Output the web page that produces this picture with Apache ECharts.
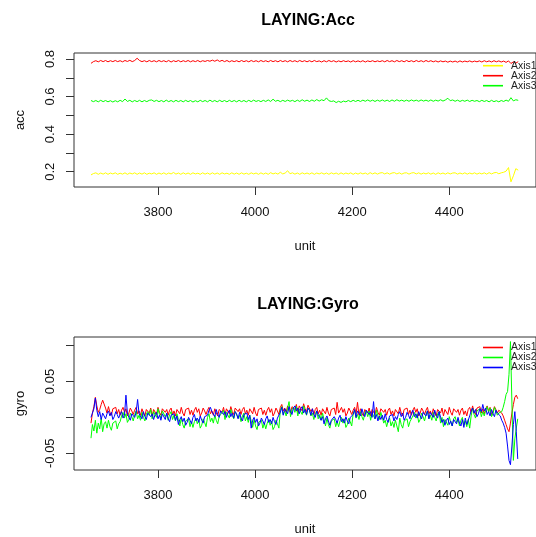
<!DOCTYPE html>
<html>
<head>
<meta charset="utf-8">
<script src="https://cdn.jsdelivr.net/npm/echarts@6/dist/echarts.min.js"></script>
<style>
html,body{margin:0;padding:0;background:#fff;}
#chart{width:536px;height:537px;}
</style>
</head>
<body>
<div id="chart"></div>
<script>
// x = unit index of each sample
const unitStart = 3662;
const accStep = 5;
const gyroStep = 3;

const xTicks = [3800, 4000, 4200, 4400];
const accTicks = [0.2, 0.3, 0.4, 0.5, 0.6, 0.7, 0.8];
const accLabels = [0.2, 0.4, 0.6, 0.8];
const gyroTicks = [-0.05, 0, 0.05, 0.1];
const gyroLabels = [-0.05, 0.05];

const titles = ['LAYING:Acc', 'LAYING:Gyro'];
const legendNames = ['Axis1', 'Axis2', 'Axis3'];

// LAYING:Acc (one value every 5 units)
const accAxis1 = [
0.183,0.190,0.194,0.186,0.193,0.187,0.194,0.186,0.193,0.188,
0.194,0.186,0.192,0.187,0.194,0.186,0.193,0.188,0.194,0.186,
0.193,0.187,0.194,0.186,0.192,0.188,0.194,0.186,0.193,0.187,
0.194,0.186,0.193,0.188,0.196,0.187,0.193,0.186,0.194,0.187,
0.193,0.186,0.194,0.188,0.192,0.186,0.194,0.187,0.193,0.186,
0.194,0.187,0.193,0.186,0.194,0.188,0.192,0.186,0.194,0.187,
0.193,0.186,0.194,0.187,0.192,0.186,0.194,0.188,0.193,0.186,
0.194,0.187,0.193,0.186,0.195,0.188,0.193,0.187,0.197,0.188,
0.193,0.205,0.189,0.194,0.187,0.193,0.186,0.194,0.188,0.193,
0.187,0.194,0.186,0.193,0.188,0.194,0.187,0.193,0.186,0.194,
0.188,0.193,0.186,0.194,0.187,0.193,0.188,0.194,0.186,0.193,
0.187,0.194,0.188,0.193,0.186,0.195,0.188,0.194,0.187,0.193,
0.195,0.188,0.194,0.187,0.193,0.195,0.188,0.194,0.187,0.193,
0.194,0.187,0.193,0.195,0.188,0.194,0.187,0.193,0.188,0.194,
0.187,0.193,0.186,0.194,0.188,0.193,0.187,0.194,0.188,0.193,
0.194,0.187,0.193,0.188,0.194,0.187,0.193,0.188,0.194,0.187,
0.193,0.188,0.194,0.187,0.195,0.188,0.194,0.196,0.189,0.194,
0.197,0.203,0.222,0.146,0.178,0.216,0.208
];
const accAxis2 = [
0.777,0.786,0.791,0.785,0.792,0.786,0.792,0.785,0.791,0.786,
0.792,0.786,0.791,0.785,0.792,0.787,0.793,0.786,0.792,0.804,
0.792,0.786,0.791,0.785,0.792,0.786,0.791,0.785,0.792,0.786,
0.791,0.785,0.792,0.784,0.791,0.786,0.792,0.785,0.791,0.786,
0.792,0.785,0.791,0.786,0.792,0.785,0.791,0.787,0.792,0.788,
0.794,0.788,0.795,0.787,0.793,0.786,0.792,0.785,0.791,0.786,
0.791,0.785,0.792,0.786,0.791,0.785,0.792,0.786,0.791,0.785,
0.792,0.786,0.791,0.785,0.792,0.786,0.791,0.785,0.792,0.786,
0.791,0.785,0.792,0.786,0.791,0.785,0.792,0.786,0.791,0.785,
0.791,0.785,0.792,0.786,0.790,0.784,0.791,0.785,0.792,0.786,
0.791,0.784,0.790,0.785,0.791,0.786,0.790,0.784,0.791,0.785,
0.790,0.785,0.791,0.784,0.790,0.786,0.791,0.785,0.790,0.786,
0.791,0.785,0.792,0.786,0.791,0.785,0.792,0.786,0.791,0.785,
0.792,0.786,0.791,0.785,0.792,0.786,0.791,0.785,0.792,0.786,
0.791,0.785,0.790,0.784,0.790,0.785,0.789,0.783,0.789,0.784,
0.789,0.783,0.790,0.784,0.789,0.785,0.790,0.784,0.789,0.785,
0.790,0.784,0.791,0.785,0.790,0.784,0.791,0.785,0.790,0.784,
0.789,0.782,0.790,0.776,0.785,0.778,0.786
];
const accAxis3 = [
0.579,0.573,0.579,0.572,0.580,0.573,0.579,0.572,0.578,0.571,
0.578,0.572,0.580,0.573,0.587,0.574,0.580,0.572,0.579,0.573,
0.580,0.572,0.579,0.573,0.580,0.582,0.574,0.580,0.573,0.579,
0.572,0.581,0.573,0.579,0.572,0.580,0.573,0.579,0.572,0.580,
0.573,0.579,0.571,0.578,0.572,0.580,0.573,0.579,0.572,0.581,
0.573,0.579,0.572,0.580,0.573,0.579,0.572,0.580,0.573,0.579,
0.572,0.580,0.573,0.579,0.572,0.580,0.573,0.581,0.574,0.579,
0.573,0.580,0.574,0.582,0.574,0.586,0.575,0.580,0.573,0.580,
0.574,0.581,0.575,0.580,0.573,0.581,0.574,0.583,0.575,0.581,
0.574,0.582,0.575,0.584,0.576,0.583,0.578,0.593,0.578,0.574,
0.577,0.568,0.575,0.569,0.576,0.572,0.579,0.573,0.580,0.574,
0.580,0.574,0.581,0.575,0.582,0.575,0.581,0.574,0.581,0.575,
0.582,0.575,0.581,0.574,0.582,0.575,0.583,0.576,0.581,0.575,
0.581,0.575,0.582,0.576,0.581,0.575,0.582,0.576,0.581,0.575,
0.582,0.575,0.581,0.576,0.583,0.576,0.582,0.591,0.578,0.582,
0.575,0.581,0.574,0.580,0.575,0.581,0.574,0.580,0.575,0.579,
0.573,0.580,0.574,0.579,0.572,0.580,0.573,0.578,0.572,0.579,
0.574,0.581,0.575,0.594,0.577,0.583,0.580
];

// LAYING:Gyro (one value every 3 units)
const gyroAxis1 = [
-0.008,0.006,0.015,0.028,0.016,0.007,0.011,0.018,0.024,0.022,
0.013,0.006,0.015,0.007,0.003,0.012,0.010,0.014,0.005,0.011,
0.003,0.010,0.014,0.007,0.012,0.002,0.006,0.013,0.009,0.004,
0.010,0.014,0.005,0.009,0.003,0.012,0.006,0.002,0.011,0.013,
0.006,0.013,0.002,0.011,0.009,0.004,0.014,0.007,0.003,0.012,
0.014,0.007,0.011,0.003,0.010,0.013,0.004,0.009,0.002,0.011,
0.012,0.005,0.014,0.006,0.002,0.011,0.009,0.013,0.004,0.010,
0.003,0.010,0.014,0.007,0.012,0.002,0.006,0.013,0.009,0.004,
0.010,0.014,0.005,0.009,0.003,0.012,0.006,0.002,0.011,0.013,
0.007,0.014,0.003,0.012,0.010,0.005,0.015,0.008,0.004,0.013,
0.015,0.008,0.012,0.004,0.011,0.014,0.005,0.010,0.003,0.012,
0.012,0.005,0.014,0.006,0.002,0.011,0.009,0.013,0.004,0.010,
0.003,0.010,0.014,0.007,0.012,0.002,0.006,0.013,0.009,0.004,
0.014,0.018,0.009,0.013,0.007,0.016,0.010,0.006,0.015,0.017,
0.011,0.018,0.007,0.016,0.014,0.009,0.019,0.012,0.008,0.017,
0.015,0.008,0.012,0.004,0.011,0.014,0.005,0.010,0.003,0.012,
0.012,0.005,0.014,0.006,0.002,0.011,0.009,0.013,0.004,0.021,
0.006,0.010,0.014,0.007,0.012,0.002,0.006,0.013,0.009,0.004,
0.010,0.014,0.005,0.021,0.003,0.012,0.006,0.002,0.011,0.013,
0.006,0.013,0.002,0.011,0.009,0.004,0.014,0.007,0.003,0.012,
0.014,0.007,0.011,0.003,0.010,0.013,0.004,0.009,0.002,0.011,
0.012,0.005,0.014,0.006,0.002,0.011,0.009,0.013,0.004,0.010,
0.003,0.010,0.014,0.007,0.012,0.002,0.006,0.013,0.009,0.004,
0.010,0.014,0.005,0.009,0.003,0.012,0.006,0.002,0.011,0.013,
0.006,0.013,0.002,0.011,0.009,0.004,0.014,0.007,0.003,0.012,
0.014,0.007,0.011,0.003,0.010,0.013,0.004,0.009,0.002,0.011,
0.014,0.007,0.016,0.008,0.004,0.013,0.011,0.015,0.006,0.012,
0.005,0.012,0.016,0.009,0.014,0.004,0.008,0.015,0.011,0.006,
0.010,0.008,0.006,0.002,-0.004,-0.010,-0.016,-0.020,-0.008,0.006,
0.018,0.028,0.031,0.026
];
const gyroAxis2 = [
-0.029,-0.010,-0.019,-0.004,-0.022,-0.008,-0.016,-0.001,-0.020,-0.009,
-0.006,-0.015,-0.004,-0.013,-0.018,-0.008,-0.010,-0.005,-0.016,-0.009,
-0.006,0.002,0.007,-0.001,0.005,-0.007,-0.003,0.006,0.001,-0.005,
0.004,0.009,-0.002,0.003,-0.004,0.007,0.000,-0.005,0.005,0.008,
0.003,0.011,-0.002,0.008,0.006,0.000,0.012,0.004,-0.001,0.009,
0.009,0.001,0.005,-0.004,0.004,0.008,-0.003,0.003,-0.005,0.005,
-0.003,-0.012,-0.001,-0.010,-0.015,-0.005,-0.007,-0.002,-0.013,-0.006,
-0.014,-0.006,-0.001,-0.009,-0.003,-0.015,-0.011,-0.002,-0.007,-0.013,
0.000,0.005,-0.006,-0.001,-0.008,0.003,-0.004,-0.009,0.001,0.004,
0.002,0.010,-0.003,0.007,0.005,-0.001,0.011,0.003,-0.002,0.008,
0.007,-0.001,0.003,-0.006,0.002,0.006,-0.005,0.001,-0.007,0.003,
-0.005,-0.014,-0.003,-0.012,-0.017,-0.007,-0.009,-0.004,-0.015,-0.008,
-0.016,-0.008,-0.003,-0.011,-0.005,-0.017,-0.013,-0.004,-0.009,-0.015,
0.010,0.015,0.004,0.009,0.002,0.013,0.022,0.001,0.011,0.014,
0.007,0.015,0.002,0.012,0.010,0.004,0.016,0.008,0.003,0.013,
0.010,0.002,0.006,-0.003,0.005,0.009,-0.002,0.004,-0.004,0.006,
-0.003,-0.012,-0.001,-0.010,-0.015,-0.005,-0.007,-0.002,-0.013,-0.006,
-0.013,-0.005,0.000,-0.008,-0.002,-0.014,-0.010,-0.001,-0.006,-0.012,
0.005,0.010,-0.001,0.004,-0.003,0.008,0.001,-0.004,0.006,0.009,
0.001,0.009,-0.004,0.006,0.004,-0.002,0.010,0.002,-0.003,0.007,
0.000,-0.008,-0.004,-0.013,-0.005,-0.001,-0.012,-0.006,-0.014,-0.004,
-0.003,-0.020,-0.001,-0.010,-0.015,-0.005,-0.007,-0.002,-0.013,-0.006,
-0.006,0.002,0.007,-0.001,0.005,-0.007,-0.003,0.006,0.001,-0.005,
0.004,0.009,-0.002,0.003,-0.004,0.007,0.000,-0.005,0.005,0.008,
-0.008,0.000,-0.013,-0.003,-0.005,-0.011,0.001,-0.007,-0.012,-0.002,
0.001,-0.007,-0.003,-0.012,-0.004,0.000,-0.011,-0.005,-0.013,-0.003,
-0.015,0.002,0.013,0.004,-0.001,0.009,0.007,0.012,0.001,0.008,
0.002,0.010,0.015,0.007,0.013,0.001,0.005,0.014,0.009,0.003,
0.006,0.004,0.008,0.014,0.022,0.032,0.036,0.060,0.1057,0.020,
-0.060,-0.030,-0.015,-0.002
];
const gyroAxis3 = [
0.000,0.006,0.012,0.027,0.010,0.001,0.008,-0.003,0.006,0.002,
-0.002,0.005,0.009,0.002,0.007,-0.003,0.001,0.008,0.004,-0.001,
0.004,0.008,-0.001,0.003,0.031,0.006,0.000,-0.004,0.005,0.007,
0.000,0.007,0.025,0.005,0.003,-0.002,0.008,0.001,-0.003,0.006,
0.008,0.001,0.005,-0.003,0.004,0.007,-0.002,0.003,-0.004,0.005,
0.004,-0.003,0.006,-0.002,-0.006,0.003,0.001,0.005,-0.004,0.002,
-0.010,-0.003,0.001,-0.006,-0.001,-0.011,-0.007,0.000,-0.004,-0.009,
0.000,0.004,-0.005,-0.001,-0.007,0.002,-0.004,-0.008,0.001,0.003,
0.003,0.010,0.014,0.008,0.006,0.001,0.011,0.004,0.000,0.009,
0.011,0.004,0.008,0.000,0.007,0.010,0.001,0.006,-0.001,0.008,
0.005,-0.002,0.007,-0.001,-0.005,0.004,0.002,0.006,-0.003,0.003,
-0.015,-0.004,0.000,-0.007,-0.002,-0.012,-0.008,-0.001,-0.005,-0.010,
-0.002,0.002,-0.007,-0.003,-0.009,0.000,-0.006,-0.010,-0.001,0.001,
0.007,0.014,0.003,0.012,0.010,0.005,0.015,0.008,0.004,0.013,
0.016,0.009,0.013,0.005,0.012,0.015,0.006,0.011,0.004,0.013,
0.010,0.003,0.012,0.004,0.000,0.009,0.004,0.000,-0.004,0.001,
-0.009,-0.002,0.002,-0.005,-0.011,-0.004,-0.006,0.001,-0.003,-0.008,
-0.001,0.003,-0.006,-0.002,-0.008,0.001,-0.005,-0.009,0.000,0.002,
0.004,0.011,0.000,0.009,0.007,0.002,0.012,0.005,0.001,0.010,
0.011,0.004,0.008,0.000,0.022,-0.002,0.004,-0.005,0.002,-0.003,
0.003,-0.004,0.005,-0.003,-0.007,0.002,0.000,0.004,-0.005,0.001,
-0.003,0.004,0.008,0.001,0.006,-0.004,0.000,0.007,0.003,-0.002,
0.006,0.010,0.001,0.005,-0.001,0.008,0.002,-0.002,0.007,0.009,
0.002,0.009,-0.002,0.007,0.005,0.000,0.010,0.003,-0.001,0.008,
0.000,-0.007,-0.003,-0.011,-0.004,-0.001,-0.010,-0.005,-0.012,-0.003,
-0.002,-0.009,0.000,-0.008,-0.012,-0.003,-0.014,-0.001,-0.010,-0.004,
0.002,0.009,0.013,0.006,0.011,0.001,0.005,0.012,0.008,0.018,
0.009,0.013,0.004,0.008,0.002,0.011,0.005,0.001,0.010,0.006,
0.004,0.002,-0.004,-0.008,-0.014,-0.022,-0.040,-0.060,-0.066,-0.040,
-0.010,0.008,-0.020,-0.058
];

const accColors = ['#FFFF00', '#FF0000', '#00FF00'];
const gyroColors = ['#FF0000', '#00FF00', '#0000FF'];

function pairs(vals, step) {
  return vals.map(function (v, i) { return [unitStart + i * step, v]; });
}

const FONT = '"Liberation Sans", Arial, sans-serif';
const INK = '#111';
const BOX = '#333';

function xAxisFor(gi) {
  return {
    type: 'value', gridIndex: gi, min: 3627, max: 4578.6,
    name: 'unit', nameLocation: 'middle', nameGap: 53,
    nameTextStyle: { fontSize: 13, color: INK, fontFamily: FONT },
    axisLine: { show: false, onZero: false },
    axisTick: { show: true, length: 8, customValues: xTicks, lineStyle: { color: BOX, width: 1 } },
    axisLabel: { customValues: xTicks, fontSize: 13, color: INK, fontFamily: FONT, margin: 19,
      formatter: function (v) { return String(v); } },
    splitLine: { show: false }
  };
}
function yAxisFor(gi, name, min, max, ticks, labels) {
  return {
    type: 'value', gridIndex: gi, min: min, max: max,
    name: name, nameLocation: 'middle', nameGap: 47, nameRotate: 90,
    nameTextStyle: { fontSize: 13, color: INK, fontFamily: FONT },
    axisLine: { show: false, onZero: false },
    axisTick: { show: true, length: 8, customValues: ticks, lineStyle: { color: BOX, width: 1 } },
    axisLabel: { customValues: labels, rotate: 90, fontSize: 13, color: INK, fontFamily: FONT, margin: 17,
      formatter: function (v) { return String(v); } },
    splitLine: { show: false }
  };
}

const series = [];
[accAxis1, accAxis2, accAxis3].forEach(function (vals, k) {
  series.push({
    name: 'Acc:' + legendNames[k], type: 'line', xAxisIndex: 0, yAxisIndex: 0,
    data: pairs(vals, accStep), symbol: 'none', showSymbol: false, silent: true,
    lineStyle: { color: accColors[k], width: 1 }, itemStyle: { color: accColors[k] }
  });
});
[gyroAxis1, gyroAxis2, gyroAxis3].forEach(function (vals, k) {
  series.push({
    name: 'Gyro:' + legendNames[k], type: 'line', xAxisIndex: 1, yAxisIndex: 1,
    data: pairs(vals, gyroStep), symbol: 'none', showSymbol: false, silent: true,
    lineStyle: { color: gyroColors[k], width: 1 }, itemStyle: { color: gyroColors[k] }
  });
});

function legendFor(prefix, colors, top) {
  return {
    orient: 'vertical', left: 483, top: top, padding: 0,
    itemWidth: 20, itemHeight: 12, itemGap: 0,
    icon: 'path://M0,0L20,0L20,1.6L0,1.6Z',
    itemStyle: { borderWidth: 0 },
    data: legendNames.map(function (n, k) {
      return { name: prefix + n, itemStyle: { color: colors[k], borderWidth: 0, opacity: 1 } };
    }),
    formatter: function (name) { return name.split(':')[1]; },
    textStyle: { fontSize: 10.4, color: '#222', fontFamily: FONT, padding: [0, 0, 0, 3] },
    selectedMode: false
  };
}

const chart = echarts.init(document.getElementById('chart'), null, { renderer: 'canvas' });
chart.setOption({
  animation: false,
  backgroundColor: '#fff',
  grid: [
    { left: 74, top: 53, width: 469, height: 134, show: true, borderColor: BOX, borderWidth: 1, containLabel: false },
    { left: 74, top: 337, width: 469, height: 133, show: true, borderColor: BOX, borderWidth: 1, containLabel: false }
  ],
  xAxis: [xAxisFor(0), xAxisFor(1)],
  yAxis: [
    yAxisFor(0, 'acc', 0.1185, 0.832, accTicks, accLabels),
    yAxisFor(1, 'gyro', -0.0734, 0.1121, gyroTicks, gyroLabels)
  ],
  legend: [legendFor('Acc:', accColors, 60.7), legendFor('Gyro:', gyroColors, 342.5)],
  graphic: [
    { type: 'text', x: 308, y: 21, silent: true,
      style: { text: titles[0], font: 'bold 16px ' + FONT, fill: '#000', textAlign: 'center', textVerticalAlign: 'middle' } },
    { type: 'text', x: 308, y: 305, silent: true,
      style: { text: titles[1], font: 'bold 16px ' + FONT, fill: '#000', textAlign: 'center', textVerticalAlign: 'middle' } }
  ],
  series: series
});
</script>
</body>
</html>
